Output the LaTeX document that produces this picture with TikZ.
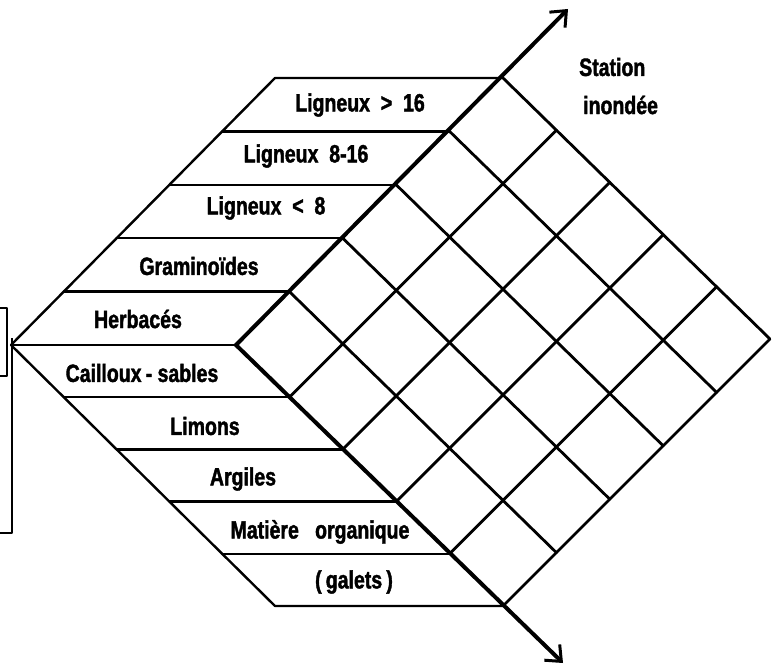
\documentclass[tikz,border=0pt]{standalone}
\usepackage{fontspec}
\setmainfont{Liberation Sans}[BoldFont={Liberation Sans Bold},
  BoldFeatures={FakeStretch=0.78,FakeBold=1.6}]
\usetikzlibrary{arrows.meta,calc}
\begin{document}
\begin{tikzpicture}[x=1pt,y=-1pt,
  bandline/.style={line width=2.4pt, line join=round, line cap=round},
  gridline/.style={line width=2.8pt, line cap=round},
  axisline/.style={line width=4pt, line cap=round,
    -{Straight Barb[length=13pt,width=22pt,line width=3pt]}},
  boxline/.style={line width=2.2pt, line join=round},
  lbl/.style={font=\fontsize{25}{29}\selectfont\bfseries, inner sep=0pt}]
\useasboundingbox (0,0) rectangle (780,669);

% key points
\coordinate (L) at (11,345);
\coordinate (C) at (236,345);
\coordinate (T) at (275,78);
\coordinate (B) at (275,606);
\coordinate (P5) at (503,78);
\coordinate (Q5) at (503,606);
\coordinate (Utip) at (568,9);
\coordinate (Dtip) at (563,663);

% upper bands (vegetation)
\draw[bandline] (L) -- (T) -- (P5);
\foreach \k in {1,...,4}{
  \draw[bandline] ({11+52.8*\k},{345-53.4*\k}) -- ({236+53.4*\k},{345-53.4*\k});
}
\draw[bandline] (L) -- (C);
% lower bands (substrate)
\draw[bandline] (L) -- (B) -- (Q5);
\foreach \k in {1,...,4}{
  \draw[bandline] ({11+52.8*\k},{345+52.2*\k}) -- ({236+53.4*\k},{345+52.2*\k});
}

% grid
\foreach \k in {1,...,5}{
  \draw[gridline] ({236+53.4*\k},{345-53.4*\k}) -- ({236+53.4*\k+267},{345-53.4*\k+261});
  \draw[gridline] ({236+53.4*\k},{345+52.2*\k}) -- ({236+53.4*\k+267},{345+52.2*\k-267});
}
% axes
\draw[axisline] (C) -- (Utip);
\draw[axisline] (C) -- (Dtip);

% small box at left edge
\draw[boxline] (0,308) -- (7,308) -- (7,376) -- (0,376);
\draw[boxline] (12,338) -- (12,533) -- (0,533);

% labels
\node[lbl] (l1) at (360,105) {Ligneux\ \ >\ \ 16};
\node[lbl] (l2) at (306,156) {Ligneux\ \ 8-16};
\node[lbl] (l3) at (266,208) {Ligneux\ \ <\ \ 8};
\node[lbl] (l4) at (199,266) {Graminoïdes};
\node[lbl] (l5) at (138,319) {Herbacés};
\node[lbl] (s1) at (142,373) {Cailloux\,-\ sables};
\node[lbl] (s2) at (205,426) {Limons};
\node[lbl] (s3) at (243,479) {Argiles};
\node[lbl] (s4) at (320,532) {Matière\ \ \ organique};
\node[lbl] (s5) at (354,582) {(\,galets\,)};
\node[lbl, anchor=west] (st1) at (579,67) {Station};
\node[lbl, anchor=west] (st2) at (583,105) {inondée};
\end{tikzpicture}
\end{document}
